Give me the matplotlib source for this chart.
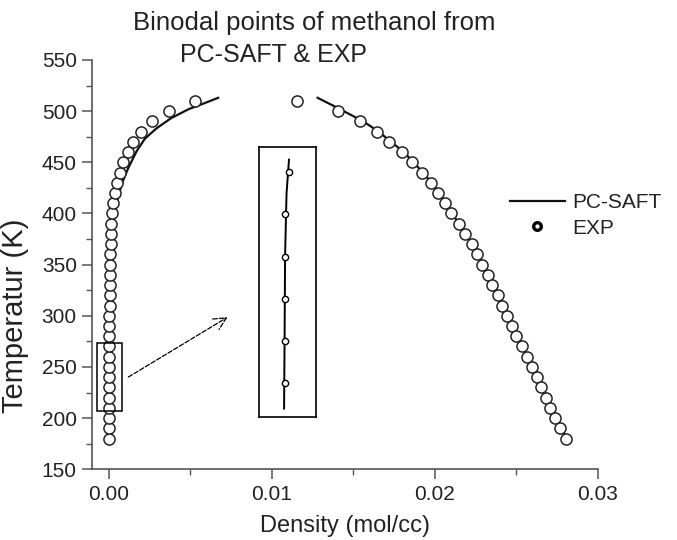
import matplotlib
matplotlib.use('Agg')
import matplotlib.pyplot as plt
from matplotlib.patches import Rectangle
from matplotlib.ticker import MultipleLocator

plt.rcParams['font.family'] = ['Liberation Sans', 'DejaVu Sans']

# experimental binodal points (mol/cc, K)
t_exp_vap = [180, 190, 200, 210, 220, 230, 240, 250, 260, 270, 280, 290, 300,
             310, 320, 330, 340, 350, 360, 370, 380, 390, 400, 410, 420, 430,
             440, 450, 460, 470, 480, 490, 500, 510]
rho_exp_vap = [0.0, 0.0, 0.0, 0.0, 0.0, 0.0, 0.0, 0.00001, 0.00001, 0.00001,
               0.00001, 0.00002, 0.00002, 0.00003, 0.00004, 0.00005, 0.00006,
               0.00007, 0.00008, 0.0001, 0.00012, 0.00014, 0.00018, 0.00026,
               0.00037, 0.00051, 0.00067, 0.00088, 0.00118, 0.00149, 0.00196,
               0.00262, 0.00368, 0.00528]

t_exp_liq = [510, 500, 490, 480, 470, 460, 450, 440, 430, 420, 410, 400, 390,
             380, 370, 360, 350, 340, 330, 320, 310, 300, 290, 280, 270, 260,
             250, 240, 230, 220, 210, 200, 190, 180]
rho_exp_liq = [0.01153, 0.01405, 0.0154, 0.01644, 0.01718, 0.01798, 0.0186,
               0.0192, 0.01975, 0.0202, 0.0206, 0.0210, 0.02147, 0.02184,
               0.02227, 0.02258, 0.02288, 0.02325, 0.0235, 0.02387, 0.0241,
               0.02442, 0.02472, 0.0250, 0.02534, 0.02564, 0.02595, 0.02626,
               0.0265, 0.0268, 0.02706, 0.02736, 0.02767, 0.02804]

# PC-SAFT curves
t_saft_vap = [513, 508, 502, 493, 483, 473, 461, 444, 432, 420, 400, 380, 350,
              300, 250, 210]
rho_saft_vap = [0.0067, 0.0059, 0.0049, 0.0038, 0.0029, 0.0022, 0.0017,
                0.00117, 0.00086, 0.00062, 0.00033, 0.00017, 0.00007, 0.00002,
                0.0, 0.0]

t_saft_liq = [513, 505, 500, 490, 480, 470, 460, 450, 440, 430, 420, 410, 400,
              380, 360, 340, 320, 300, 280, 260, 240, 220, 200, 180]
rho_saft_liq = [0.0128, 0.0138, 0.0144, 0.0156, 0.01655, 0.0173, 0.0181,
                0.01868, 0.01927, 0.0198, 0.02027, 0.02067, 0.02106, 0.0219,
                0.02263, 0.0233, 0.0239, 0.02447, 0.02505, 0.02568, 0.0263,
                0.02685, 0.0274, 0.02808]

# zoomed-in vapour points (inset, density in 1e-6 mol/cc)
t_inset_exp = [220, 230, 240, 250, 260, 270]
rho_inset_exp = [0.3, 0.3, 0.32, 0.35, 0.35, 0.7]
t_inset_saft = [214, 230, 250, 265, 273]
rho_inset_saft = [0.25, 0.3, 0.35, 0.5, 0.75]

grey = '#555555'
txt = '#222222'

fig = plt.figure(figsize=(6.77, 5.40), dpi=100)
ax = fig.add_axes([0.136, 0.131, 0.747, 0.758])

ax.plot(rho_saft_vap, t_saft_vap, '-', color='#111111', lw=1.6, zorder=2,
        label='PC-SAFT')
ax.plot(rho_saft_liq, t_saft_liq, '-', color='#111111', lw=1.6, zorder=2)
ax.plot(rho_exp_vap, t_exp_vap, 'o', ms=8, mfc='white', mec='#222222',
        mew=1.1, zorder=3)
ax.plot(rho_exp_liq, t_exp_liq, 'o', ms=8, mfc='white', mec='#222222',
        mew=1.1, zorder=3)

ax.set_xlim(-0.00104, 0.03)
ax.set_ylim(150, 550)
ax.xaxis.set_major_locator(MultipleLocator(0.01))
ax.xaxis.set_minor_locator(MultipleLocator(0.005))
ax.yaxis.set_major_locator(MultipleLocator(50))
ax.yaxis.set_minor_locator(MultipleLocator(25))
ax.xaxis.set_major_formatter(plt.FuncFormatter(lambda v, p: '%.2f' % v))
for s in ['top', 'right']:
    ax.spines[s].set_visible(False)
for s in ['left', 'bottom']:
    ax.spines[s].set_color(grey)
    ax.spines[s].set_linewidth(1.2)
ax.tick_params(which='major', direction='out', length=7, width=1.1,
               color=grey, labelsize=15, labelcolor=txt, pad=4)
ax.tick_params(which='minor', direction='out', length=4, width=1.0,
               color=grey)
ax.set_xlabel('Density (mol/cc)', fontsize=17, color=txt)
ax.set_ylabel('Temperatur (K)', fontsize=21, color=txt)
ax.xaxis.set_label_coords(0.5, -0.112)
ax.yaxis.set_label_coords(-0.124, 0.374)

# box around the zoomed region and arrow to the inset
ax.add_patch(Rectangle((-0.00074, 206.5), 0.00154, 67.3, fill=False,
                       ec='black', lw=1.1, zorder=4))
ax.annotate('', xy=(0.00742, 300), xytext=(0.00104, 238.7),
            arrowprops=dict(arrowstyle='->', linestyle='--', lw=0.9,
                            color='black', mutation_scale=22))

# legend
ax.plot([], [], 'o', ms=5.5, mfc='white', mec='black', mew=2.4, label='EXP')
ax.legend(loc='upper left', bbox_to_anchor=(0.79, 0.72), frameon=False,
          fontsize=15, handlelength=2.6, handletextpad=0.35,
          labelspacing=0.3, labelcolor=txt)

# inset
ins = fig.add_axes([0.3826, 0.2278, 0.0842, 0.5])
ins.plot(rho_inset_saft, t_inset_saft, '-', color='black', lw=1.4, zorder=2)
ins.plot(rho_inset_exp, t_inset_exp, 'o', ms=4.5, mfc='white', mec='black',
         mew=1.0, zorder=3)
ins.set_xlim(-2.3, 3.5)
ins.set_ylim(212, 276)
ins.set_xticks([])
ins.set_yticks([])
for s in ins.spines.values():
    s.set_linewidth(1.2)
    s.set_color('black')

fig.text(0.464, 0.958, 'Binodal points of methanol from', fontsize=18.5,
         color=txt, ha='center', va='center')
fig.text(0.266, 0.898, 'PC-SAFT & EXP', fontsize=18, color=txt,
         ha='left', va='center')

fig.savefig('out.png', dpi=100)
